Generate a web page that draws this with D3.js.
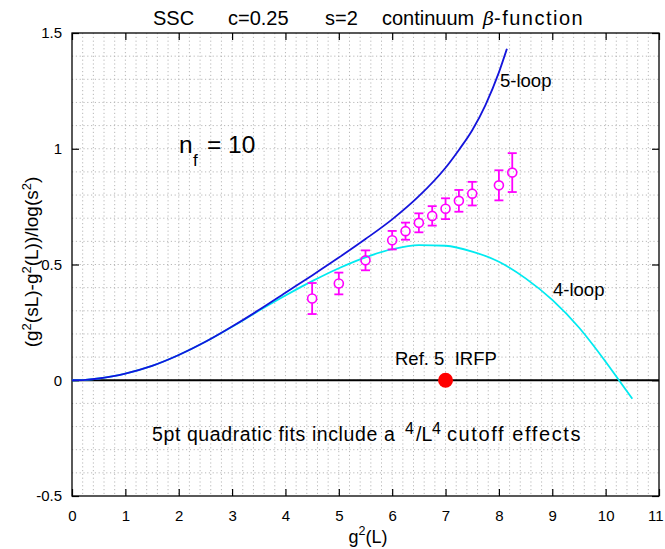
<!DOCTYPE html>
<html><head><meta charset="utf-8">
<script src="https://cdn.jsdelivr.net/npm/d3@7"></script>
<style>body{margin:0;background:#fff;} text{font-family:"Liberation Sans",Arial,Helvetica,sans-serif;}</style>
</head><body><svg id="c" width="665" height="549"></svg>
<script>
// ---- data ----
const xTicks = [0,1,2,3,4,5,6,7,8,9,10,11];
const yTicks = [-0.5,0,0.5,1,1.5];
const yTickLabels = ["-0.5","0","0.5","1","1.5"];
// 5-loop curve (blue)
const loop5X = [0,0.25,0.5,0.75,1,1.5,2,2.5,3,3.5,4,4.5,5,5.5,6,6.5,7,7.25,7.5,7.75,8,8.15];
const loop5Y = [0,0.002,0.0075,0.017,0.029,0.062,0.109,0.166,0.232,0.303,0.378,0.453,0.530,0.610,0.695,0.795,0.918,0.995,1.080,1.190,1.330,1.432];
// 4-loop curve (cyan)
const loop4X = [0,0.25,0.5,0.75,1,1.5,2,2.5,3,3.5,4,4.5,5,5.5,6,6.5,7,7.5,8,8.5,9,9.5,10,10.25,10.5];
const loop4Y = [0,0.002,0.0075,0.017,0.029,0.062,0.109,0.166,0.231,0.300,0.366,0.428,0.484,0.531,0.566,0.584,0.581,0.556,0.512,0.440,0.347,0.228,0.080,0.0,-0.080];
// data points with errors (magenta)
const ptsX = [4.5,5.0,5.5,6.0,6.25,6.5,6.75,7.0,7.25,7.5,8.0,8.25];
const ptsY = [0.353,0.418,0.518,0.605,0.644,0.680,0.710,0.741,0.775,0.806,0.842,0.897];
const ptsErr = [0.067,0.047,0.043,0.040,0.037,0.041,0.042,0.045,0.047,0.051,0.065,0.084];
// reference point (red)
const refX = [7.0];
const refY = [0.0];

// ---- layout ----
const svg = d3.select("#c");
const L=72, R=659, T=33, B=496;
const x = d3.scaleLinear().domain([0,11]).range([L,R]);
const y = d3.scaleLinear().domain([-0.5,1.5]).range([B,T]);

// grid
const g = svg.append("g");
d3.range(0,11.0001,0.2).forEach(v=>{
  if (v<1e-6 || v>10.99) return;
  g.append("line").attr("x1",x(v)).attr("x2",x(v)).attr("y1",T).attr("y2",B)
   .attr("stroke","#b8b8b8").attr("stroke-width",1).attr("stroke-dasharray","1.2,2.6");
});
d3.range(-0.5,1.5001,0.1).forEach(v=>{
  if (Math.abs(v+0.5)<1e-6 || Math.abs(v-1.5)<1e-6) return;
  g.append("line").attr("x1",L).attr("x2",R).attr("y1",y(v)).attr("y2",y(v))
   .attr("stroke","#b8b8b8").attr("stroke-width",1).attr("stroke-dasharray","1.2,2.6");
});

// axes
const axB = d3.axisBottom(x).tickValues(xTicks).tickSize(-7).tickPadding(14).tickFormat(d3.format("d"));
const axT = d3.axisTop(x).tickValues(xTicks).tickSize(-7).tickFormat("");
const axL = d3.axisLeft(y).tickValues(yTicks).tickSize(-7).tickPadding(10).tickFormat((d,i)=>yTickLabels[i]);
const axR = d3.axisRight(y).tickValues(yTicks).tickSize(-7).tickFormat("");
function style(sel){ sel.select(".domain").remove(); sel.selectAll("line").attr("stroke","#000").attr("stroke-width",1.2);
  sel.selectAll("text").attr("font-size",15).attr("fill","#000").style("font-family","'Liberation Sans',Arial,sans-serif"); }
const gB = svg.append("g").attr("transform",`translate(0,${B})`).call(axB).call(style);
gB.selectAll(".tick text").filter(d=>d===11).attr("text-anchor","end").attr("dx",4);
svg.append("g").attr("transform",`translate(0,${T})`).call(axT).call(style);
svg.append("g").attr("transform",`translate(${L},0)`).call(axL).call(style);
svg.append("g").attr("transform",`translate(${R},0)`).call(axR).call(style);
svg.append("rect").attr("x",L).attr("y",T).attr("width",R-L).attr("height",B-T)
  .attr("fill","none").attr("stroke","#000").attr("stroke-width",1.3);

// zero line
svg.append("line").attr("x1",x(0)).attr("x2",x(11)).attr("y1",y(0)).attr("y2",y(0))
  .attr("stroke","#000").attr("stroke-width",2);

// curves
const line = d3.line().x(d=>x(d[0])).y(d=>y(d[1])).curve(d3.curveMonotoneX);
svg.append("path").datum(d3.zip(loop4X,loop4Y)).attr("d",line)
  .attr("fill","none").attr("stroke","#00eaf0").attr("stroke-width",1.8);
svg.append("path").datum(d3.zip(loop5X,loop5Y)).attr("d",line)
  .attr("fill","none").attr("stroke","#1414dc").attr("stroke-width",1.8);

// data points
const mag = "#ff00ff";
const pg = svg.append("g");
ptsX.forEach((px,i)=>{
  const cx = x(px), cy = y(ptsY[i]), y1 = y(ptsY[i]+ptsErr[i]), y2 = y(ptsY[i]-ptsErr[i]);
  pg.append("line").attr("x1",cx).attr("x2",cx).attr("y1",y1).attr("y2",cy-4.5).attr("stroke",mag).attr("stroke-width",1.8);
  pg.append("line").attr("x1",cx).attr("x2",cx).attr("y1",cy+4.5).attr("y2",y2).attr("stroke",mag).attr("stroke-width",1.8);
  [y1,y2].forEach(yy=>pg.append("line").attr("x1",cx-4.5).attr("x2",cx+4.5).attr("y1",yy).attr("y2",yy).attr("stroke",mag).attr("stroke-width",1.8));
  pg.append("circle").attr("cx",cx).attr("cy",cy).attr("r",4.5).attr("fill","none").attr("stroke",mag).attr("stroke-width",1.6);
});

// reference point
svg.append("circle").attr("cx",x(refX[0])).attr("cy",y(refY[0])).attr("r",7.5).attr("fill","#ff0000");

// title
const title = svg.append("text").attr("y",25).attr("font-size",20).attr("fill","#000");
title.append("tspan").attr("x",153).text("SSC");
title.append("tspan").attr("x",228).text("c=0.25");
title.append("tspan").attr("x",325).text("s=2");
title.append("tspan").attr("x",382).text("continuum");
title.append("tspan").attr("x",483).attr("font-style","italic").style("font-family","'DejaVu Serif',serif").attr("font-size",19).text("β");
title.append("tspan").attr("x",494).attr("letter-spacing",1.5).text("-function");

// axis labels
const xl = svg.append("text").attr("x",368).attr("y",543).attr("text-anchor","middle").attr("font-size",18);
xl.append("tspan").text("g");
xl.append("tspan").attr("dy",-8).attr("font-size",12.5).text("2");
xl.append("tspan").attr("dy",8).text("(L)");

const yl = svg.append("text").attr("transform","translate(38,262) rotate(-90)").attr("text-anchor","middle").attr("font-size",19);
yl.append("tspan").text("(g");
yl.append("tspan").attr("dy",-7.5).attr("font-size",13).text("2");
yl.append("tspan").attr("dy",7.5).text("(sL)-g");
yl.append("tspan").attr("dy",-7.5).attr("font-size",13).text("2");
yl.append("tspan").attr("dy",7.5).text("(L))/log(s");
yl.append("tspan").attr("dy",-7.5).attr("font-size",13).text("2");
yl.append("tspan").attr("dy",7.5).text(")");

// annotations
const nf = svg.append("g");
nf.append("text").attr("x",179).attr("y",153).attr("font-size",24.5).text("n");
nf.append("text").attr("x",193).attr("y",166).attr("font-size",17).text("f");
nf.append("text").attr("x",207).attr("y",153).attr("font-size",24.5).text("= 10");

svg.append("text").attr("x",500).attr("y",87).attr("font-size",18.5).text("5-loop");
svg.append("text").attr("x",553).attr("y",296).attr("font-size",18.5).text("4-loop");
svg.append("text").attr("x",395).attr("y",365).attr("font-size",18.5).attr("xml:space","preserve").text("Ref. 5  IRFP");
const fit = svg.append("g").attr("font-size",19.5);
fit.append("text").attr("x",152).attr("y",441).attr("letter-spacing",0.6).text("5pt quadratic fits include a");
fit.append("text").attr("x",405).attr("y",434).attr("font-size",16).text("4");
fit.append("text").attr("x",416).attr("y",441).text("/L");
fit.append("text").attr("x",432).attr("y",434).attr("font-size",16).text("4");
fit.append("text").attr("x",447).attr("y",441).attr("font-size",20).attr("letter-spacing",1.6).text("cutoff effects");
</script></body></html>
